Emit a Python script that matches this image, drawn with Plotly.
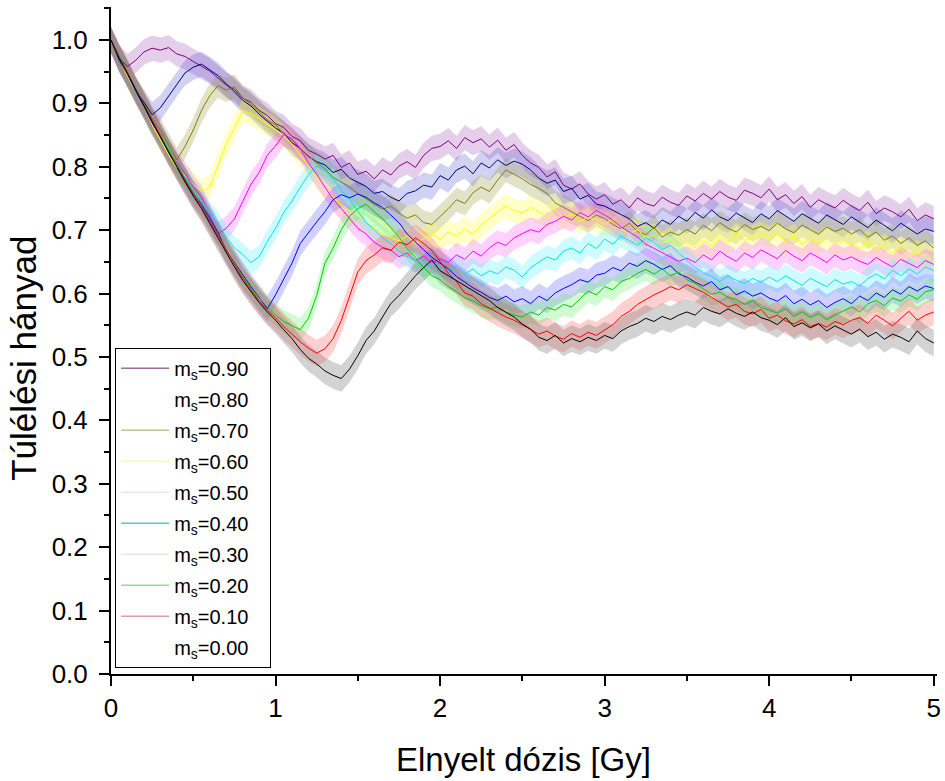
import plotly.graph_objects as go

# Dose grid (Gy), 0.05 Gy step
DOSE = [round(i * 0.05, 2) for i in range(101)]

MS_LABELS = ["0.90", "0.80", "0.70", "0.60", "0.50", "0.40", "0.30", "0.20", "0.10", "0.00"]

S090 = [1.000, 0.972, 0.958, 0.968, 0.981, 0.987, 0.984, 0.988, 0.978, 0.974,
        0.966, 0.958, 0.951, 0.940, 0.929, 0.922, 0.908, 0.902, 0.889, 0.881,
        0.868, 0.862, 0.848, 0.841, 0.826, 0.820, 0.812, 0.818, 0.799, 0.806,
        0.788, 0.793, 0.781, 0.795, 0.787, 0.801, 0.808, 0.799, 0.818, 0.829,
        0.832, 0.841, 0.829, 0.846, 0.838, 0.844, 0.831, 0.842, 0.826, 0.835,
        0.818, 0.806, 0.799, 0.784, 0.792, 0.771, 0.765, 0.773, 0.757, 0.749,
        0.756, 0.741, 0.748, 0.735, 0.751, 0.742, 0.738, 0.752, 0.744, 0.739,
        0.754, 0.746, 0.758, 0.749, 0.761, 0.752, 0.747, 0.763, 0.758, 0.751,
        0.765, 0.748, 0.756, 0.742, 0.753, 0.736, 0.748, 0.741, 0.735, 0.747,
        0.738, 0.731, 0.744, 0.726, 0.735, 0.729, 0.721, 0.733, 0.715, 0.724,
        0.718]

S080 = [1.000, 0.968, 0.946, 0.921, 0.902, 0.882, 0.893, 0.912, 0.931, 0.948,
        0.957, 0.962, 0.953, 0.944, 0.931, 0.918, 0.905, 0.896, 0.883, 0.872,
        0.861, 0.853, 0.838, 0.829, 0.816, 0.808, 0.803, 0.791, 0.796, 0.782,
        0.776, 0.769, 0.758, 0.761, 0.752, 0.746, 0.758, 0.762, 0.771, 0.768,
        0.786, 0.779, 0.795, 0.801, 0.789, 0.806, 0.798, 0.811, 0.802, 0.809,
        0.804, 0.795, 0.782, 0.774, 0.779, 0.761, 0.766, 0.749, 0.755, 0.741,
        0.738, 0.731, 0.724, 0.718, 0.706, 0.712, 0.703, 0.716, 0.709, 0.722,
        0.714, 0.728, 0.719, 0.732, 0.721, 0.715, 0.727, 0.719, 0.712, 0.726,
        0.718, 0.731, 0.722, 0.714, 0.726, 0.719, 0.711, 0.724, 0.716, 0.709,
        0.721, 0.712, 0.704, 0.716, 0.708, 0.699, 0.711, 0.703, 0.694, 0.702,
        0.698]

S070 = [1.000, 0.973, 0.949, 0.921, 0.899, 0.876, 0.858, 0.834, 0.811, 0.832,
        0.858, 0.889, 0.912, 0.928, 0.921, 0.926, 0.909, 0.898, 0.887, 0.874,
        0.866, 0.852, 0.843, 0.829, 0.818, 0.806, 0.797, 0.783, 0.776, 0.768,
        0.758, 0.749, 0.741, 0.733, 0.738, 0.727, 0.719, 0.724, 0.712, 0.709,
        0.721, 0.734, 0.748, 0.742, 0.759, 0.768, 0.761, 0.779, 0.795, 0.788,
        0.781, 0.772, 0.766, 0.758, 0.743, 0.736, 0.729, 0.722, 0.715, 0.724,
        0.718, 0.709, 0.702, 0.711, 0.698, 0.693, 0.704, 0.689, 0.697, 0.692,
        0.701, 0.694, 0.708, 0.699, 0.712, 0.703, 0.697, 0.709, 0.701, 0.706,
        0.699, 0.711, 0.702, 0.696, 0.708, 0.701, 0.694, 0.705, 0.698, 0.703,
        0.694, 0.701, 0.689, 0.697, 0.684, 0.691, 0.679, 0.688, 0.676, 0.683,
        0.672]

S060 = [1.000, 0.971, 0.943, 0.918, 0.894, 0.866, 0.842, 0.819, 0.798, 0.786,
        0.772, 0.761, 0.768, 0.801, 0.836, 0.861, 0.889, 0.884, 0.876, 0.868,
        0.859, 0.848, 0.836, 0.819, 0.802, 0.784, 0.768, 0.752, 0.739, 0.731,
        0.722, 0.714, 0.703, 0.696, 0.688, 0.683, 0.691, 0.679, 0.687, 0.694,
        0.686, 0.697, 0.691, 0.702, 0.693, 0.708, 0.718, 0.729, 0.738, 0.731,
        0.727, 0.736, 0.729, 0.721, 0.732, 0.719, 0.726, 0.713, 0.721, 0.716,
        0.709, 0.718, 0.703, 0.694, 0.701, 0.688, 0.692, 0.679, 0.686, 0.674,
        0.681, 0.672, 0.684, 0.676, 0.689, 0.681, 0.693, 0.684, 0.689, 0.695,
        0.687, 0.694, 0.682, 0.691, 0.678, 0.686, 0.679, 0.688, 0.675, 0.683,
        0.678, 0.671, 0.682, 0.668, 0.676, 0.664, 0.671, 0.659, 0.666, 0.657,
        0.652]

S050 = [1.000, 0.974, 0.947, 0.922, 0.897, 0.873, 0.851, 0.826, 0.806, 0.789,
        0.768, 0.752, 0.722, 0.694, 0.703, 0.718, 0.745, 0.772, 0.791, 0.818,
        0.833, 0.851, 0.844, 0.829, 0.806, 0.788, 0.768, 0.749, 0.734, 0.718,
        0.703, 0.694, 0.681, 0.673, 0.669, 0.658, 0.664, 0.652, 0.659, 0.648,
        0.655, 0.649, 0.661, 0.654, 0.667, 0.659, 0.672, 0.681, 0.676, 0.688,
        0.694, 0.701, 0.697, 0.709, 0.714, 0.722, 0.716, 0.728, 0.721, 0.731,
        0.724, 0.716, 0.705, 0.697, 0.689, 0.678, 0.671, 0.664, 0.658, 0.651,
        0.656, 0.649, 0.661, 0.653, 0.667, 0.658, 0.651, 0.664, 0.657, 0.669,
        0.662, 0.655, 0.668, 0.659, 0.652, 0.664, 0.657, 0.649, 0.661, 0.653,
        0.658, 0.651, 0.646, 0.657, 0.649, 0.642, 0.654, 0.647, 0.641, 0.652,
        0.646]

S040 = [1.000, 0.972, 0.948, 0.921, 0.898, 0.871, 0.849, 0.828, 0.803, 0.784,
        0.763, 0.748, 0.726, 0.712, 0.689, 0.672, 0.662, 0.649, 0.658, 0.682,
        0.703, 0.728, 0.746, 0.768, 0.787, 0.801, 0.794, 0.781, 0.763, 0.748,
        0.729, 0.712, 0.701, 0.688, 0.679, 0.667, 0.659, 0.651, 0.643, 0.648,
        0.641, 0.636, 0.644, 0.631, 0.639, 0.628, 0.636, 0.631, 0.642, 0.637,
        0.626, 0.641, 0.649, 0.658, 0.653, 0.667, 0.672, 0.664, 0.679, 0.671,
        0.686, 0.678, 0.691, 0.683, 0.676, 0.688, 0.681, 0.669, 0.676, 0.664,
        0.652, 0.641, 0.633, 0.627, 0.619, 0.628, 0.621, 0.616, 0.624, 0.618,
        0.626, 0.619, 0.628, 0.621, 0.613, 0.624, 0.617, 0.611, 0.622, 0.615,
        0.619, 0.612, 0.624, 0.631, 0.623, 0.637, 0.628, 0.639, 0.631, 0.642,
        0.636]

S030 = [1.000, 0.971, 0.946, 0.919, 0.895, 0.869, 0.848, 0.823, 0.801, 0.779,
        0.758, 0.741, 0.719, 0.697, 0.668, 0.649, 0.628, 0.611, 0.594, 0.576,
        0.598, 0.623, 0.648, 0.679, 0.697, 0.713, 0.729, 0.748, 0.756, 0.751,
        0.757, 0.752, 0.743, 0.736, 0.724, 0.712, 0.694, 0.681, 0.669, 0.657,
        0.648, 0.639, 0.627, 0.618, 0.609, 0.602, 0.594, 0.589, 0.596, 0.587,
        0.592, 0.584, 0.596, 0.589, 0.601, 0.608, 0.614, 0.622, 0.618, 0.629,
        0.632, 0.641, 0.636, 0.648, 0.643, 0.652, 0.646, 0.638, 0.644, 0.631,
        0.626, 0.618, 0.612, 0.619, 0.606, 0.611, 0.598, 0.604, 0.596, 0.601,
        0.593, 0.588, 0.597, 0.584, 0.591, 0.582, 0.589, 0.578, 0.586, 0.592,
        0.584, 0.596, 0.589, 0.601, 0.594, 0.606, 0.599, 0.611, 0.604, 0.612,
        0.608]

S020 = [1.000, 0.973, 0.948, 0.924, 0.897, 0.872, 0.848, 0.826, 0.802, 0.781,
        0.759, 0.738, 0.716, 0.693, 0.669, 0.648, 0.627, 0.609, 0.593, 0.579,
        0.566, 0.556, 0.549, 0.543, 0.561, 0.597, 0.648, 0.672, 0.701, 0.722,
        0.734, 0.741, 0.729, 0.718, 0.704, 0.689, 0.671, 0.657, 0.641, 0.628,
        0.622, 0.611, 0.603, 0.594, 0.588, 0.581, 0.576, 0.579, 0.571, 0.566,
        0.563, 0.571, 0.566, 0.578, 0.574, 0.583, 0.579, 0.591, 0.604, 0.598,
        0.611, 0.606, 0.619, 0.624, 0.632, 0.638, 0.631, 0.639, 0.628, 0.634,
        0.622, 0.616, 0.608, 0.599, 0.602, 0.594, 0.591, 0.583, 0.589, 0.578,
        0.574, 0.569, 0.576, 0.564, 0.571, 0.562, 0.568, 0.559, 0.566, 0.573,
        0.579, 0.571, 0.584, 0.589, 0.581, 0.593, 0.588, 0.598, 0.591, 0.603,
        0.606]

S010 = [1.000, 0.972, 0.949, 0.922, 0.898, 0.873, 0.849, 0.824, 0.801, 0.778,
        0.756, 0.737, 0.714, 0.691, 0.668, 0.646, 0.624, 0.606, 0.589, 0.574,
        0.562, 0.548, 0.536, 0.524, 0.514, 0.506, 0.513, 0.529, 0.558, 0.597,
        0.634, 0.652, 0.661, 0.672, 0.668, 0.681, 0.677, 0.688, 0.679, 0.668,
        0.651, 0.632, 0.619, 0.601, 0.596, 0.584, 0.577, 0.569, 0.563, 0.558,
        0.551, 0.543, 0.536, 0.541, 0.533, 0.528, 0.537, 0.531, 0.539, 0.534,
        0.542, 0.551, 0.564, 0.572, 0.583, 0.591, 0.598, 0.604, 0.611, 0.606,
        0.614, 0.608, 0.602, 0.594, 0.587, 0.579, 0.583, 0.572, 0.568, 0.575,
        0.561, 0.566, 0.557, 0.552, 0.559, 0.548, 0.553, 0.547, 0.556, 0.551,
        0.558, 0.562, 0.553, 0.566, 0.558, 0.549, 0.561, 0.572, 0.558, 0.566,
        0.571]

S000 = [1.000, 0.971, 0.947, 0.921, 0.896, 0.871, 0.847, 0.823, 0.799, 0.776,
        0.754, 0.734, 0.711, 0.688, 0.664, 0.642, 0.621, 0.603, 0.586, 0.571,
        0.558, 0.543, 0.529, 0.512, 0.498, 0.489, 0.478, 0.471, 0.466, 0.481,
        0.502, 0.526, 0.541, 0.563, 0.584, 0.597, 0.612, 0.628, 0.641, 0.653,
        0.636, 0.628, 0.621, 0.612, 0.604, 0.596, 0.589, 0.578, 0.571, 0.563,
        0.552, 0.544, 0.531, 0.526, 0.534, 0.522, 0.529, 0.524, 0.531, 0.526,
        0.534, 0.529, 0.541, 0.548, 0.553, 0.561, 0.556, 0.564, 0.559, 0.566,
        0.571, 0.566, 0.578, 0.572, 0.568, 0.576, 0.569, 0.564, 0.571, 0.562,
        0.558, 0.551, 0.562, 0.548, 0.554, 0.546, 0.552, 0.541, 0.549, 0.543,
        0.536, 0.544, 0.532, 0.539, 0.528, 0.536, 0.531, 0.524, 0.541, 0.529,
        0.522]

SERIES = [S090, S080, S070, S060, S050, S040, S030, S020, S010, S000]
ERR = [0.020, 0.020, 0.019, 0.019, 0.019, 0.018, 0.020, 0.018, 0.021, 0.021]

LINE_COLORS = ["#800080", "#000080", "#808000", "#ffff00", "#ff00ff",
               "#00e5ee", "#0000ff", "#00cc00", "#ff0000", "#000000"]
BAND_COLORS = ["rgba(160,80,180,0.28)", "rgba(90,90,210,0.28)", "rgba(150,150,60,0.28)",
               "rgba(255,255,80,0.32)", "rgba(255,90,255,0.28)", "rgba(80,240,255,0.28)",
               "rgba(90,90,255,0.28)", "rgba(90,240,90,0.28)", "rgba(255,100,100,0.30)",
               "rgba(110,110,110,0.30)"]
LEGEND_COLORS = ["#9b6fa0", "#ffffff", "#c0c090", "#ffff99", "#f3e3f0",
                 "#40d0e0", "#e8e8f2", "#90e090", "#d8a0a8", "#ffffff"]

fig = go.Figure()

# error bands
for vals, err, bc in zip(SERIES, ERR, BAND_COLORS):
    upper = [v + err for v in vals]
    lower = [v - err for v in vals]
    fig.add_trace(go.Scatter(
        x=DOSE + DOSE[::-1], y=upper + lower[::-1],
        fill="toself", fillcolor=bc, line=dict(width=0),
        mode="lines", hoverinfo="skip", showlegend=False))

# mean lines
for vals, lc, lab in zip(SERIES, LINE_COLORS, MS_LABELS):
    fig.add_trace(go.Scatter(
        x=DOSE, y=vals, mode="lines", line=dict(color=lc, width=1),
        name="m<sub>s</sub>=" + lab, showlegend=False))

# legend entries
for k, (lc, lab) in enumerate(zip(LEGEND_COLORS, MS_LABELS)):
    fig.add_trace(go.Scatter(
        x=[None], y=[None], mode="lines", line=dict(color=lc, width=1.5),
        name="m<sub>s</sub>=" + lab + "\u00a0\u00a0\u00a0", showlegend=True,
        legendgroup="g%d" % k))

axis_font = dict(family="Arial, Liberation Sans, sans-serif", size=26, color="black")

fig.update_layout(
    width=945, height=781,
    margin=dict(l=111, r=4, t=7, b=107),
    paper_bgcolor="white", plot_bgcolor="white",
    font=dict(family="Arial, Liberation Sans, sans-serif", color="black"),
    showlegend=True,
    legend=dict(x=0.005, y=0.489, xanchor="left", yanchor="top",
                bgcolor="white", bordercolor="black", borderwidth=1,
                font=dict(size=20, family="Arial, Liberation Sans, sans-serif"),
                itemwidth=48, tracegroupgap=2),
    xaxis=dict(range=[0, 5.02], showline=True, linecolor="black", linewidth=2,
               ticks="outside", ticklen=10, tickwidth=2, tickcolor="black",
               tickvals=[0, 1, 2, 3, 4, 5], ticktext=["0", "1", "2", "3", "4", "5"],
               tickfont=axis_font, showgrid=False, zeroline=False,
               minor=dict(ticks="outside", ticklen=5, tickwidth=2, tickcolor="black",
                          dtick=0.5, showgrid=False)),
    yaxis=dict(range=[0, 1.052], showline=True, linecolor="black", linewidth=2,
               ticks="outside", ticklen=10, tickwidth=2, tickcolor="black",
               dtick=0.1, tick0=0, tickformat=".1f", ticklabelstandoff=6,
               tickfont=axis_font, showgrid=False, zeroline=False,
               minor=dict(ticks="outside", ticklen=5, tickwidth=2, tickcolor="black",
                          dtick=0.05, showgrid=False)),
    annotations=[
        dict(text="Elnyelt dózis [Gy]", xref="paper", yref="paper",
             x=0.499, y=-0.128, xanchor="center", yanchor="middle",
             showarrow=False, font=dict(size=33, color="black")),
        dict(text="Túlélési hányad", xref="paper", yref="paper",
             x=-0.1054, y=0.474, xanchor="center", yanchor="middle", textangle=-90,
             showarrow=False, font=dict(size=35, color="black")),
    ],
)

fig.write_html("out.html", config={"displayModeBar": False},
               post_script="document.body.style.margin='0px';document.body.style.overflow='hidden';")
